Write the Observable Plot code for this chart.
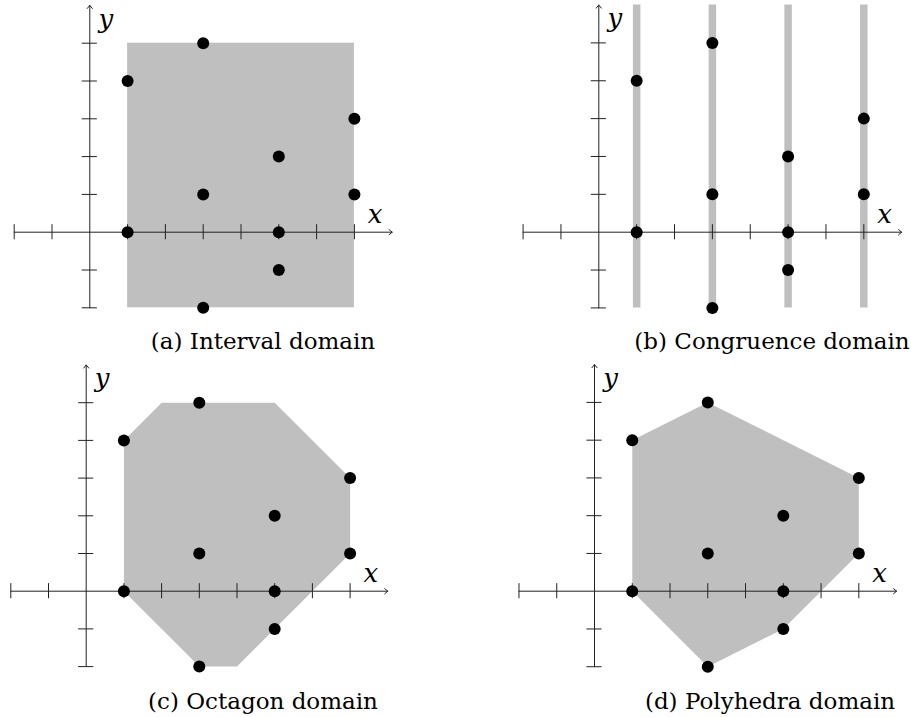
<!DOCTYPE html>
<html>
<head>
<meta charset="utf-8">
<script src="https://cdn.jsdelivr.net/npm/d3@7"></script>
<script src="https://cdn.jsdelivr.net/npm/@observablehq/plot@0.6"></script>
<style>
  html, body { margin: 0; padding: 0; background: #fff; }
  #wrap { position: relative; width: 911px; height: 717px; overflow: hidden; }
  .panel { position: absolute; }
  .cap { position: absolute; font-family: "DejaVu Serif", serif; font-size: 23px; line-height: 23px; white-space: nowrap; transform: translateX(-50%); color: #000; }
</style>
</head>
<body>
<div id="wrap"></div>
<script>
// ---- data ----
const pointX = [1, 1, 3, 3, 3, 5, 5, 5, 7, 7];
const pointY = [4, 0, 5, 1, -2, 2, 0, -1, 3, 1];
const xTicks = [-2, -1, 1, 2, 3, 4, 5, 6, 7];
const yTicks = [-2, -1, 1, 2, 3, 4, 5];
const intervalX = [1, 7];
const intervalY = [-2, 5];
const congruenceX = [1, 3, 5, 7];
const octagonX = [1, 2, 5, 7, 7, 4, 3, 1];
const octagonY = [4, 5, 5, 3, 1, -2, -2, 0];
const polyhedraX = [1, 3, 7, 7, 5, 3, 1];
const polyhedraY = [4, 5, 3, 1, -1, -2, 0];
const captions = ["(a) Interval domain", "(b) Congruence domain", "(c) Octagon domain", "(d) Polyhedra domain"];

const points = pointX.map((x, i) => ({x, y: pointY[i]}));
const poly = (xs, ys) => xs.map((x, i) => ({x, y: ys[i]}));
const GRAY = "#bfbfbf";
const AX = "#222";
const SERIF = "'DejaVu Serif', serif";

function panel(shapeMarks, layout) {
  const {left, top, w, h, ox, oy, s} = layout;
  const xDom = [-2, 8], yDom = [-2, 6];
  const plot = Plot.plot({
    width: w, height: h,
    x: {domain: xDom, range: [ox + xDom[0] * s, ox + xDom[1] * s], axis: null},
    y: {domain: yDom, range: [oy - yDom[0] * s, oy - yDom[1] * s], axis: null},
    style: {background: "transparent", overflow: "visible"},
    marks: [
      ...shapeMarks,
      Plot.arrow([0], {x1: -2, y1: 0, x2: 8, y2: 0, stroke: AX, strokeWidth: 1, headLength: 6, headAngle: 80}),
      Plot.arrow([0], {x1: 0, y1: -2, x2: 0, y2: 6, stroke: AX, strokeWidth: 1, headLength: 6, headAngle: 80}),
      Plot.ruleX(xTicks, {x: d => d, y1: -0.2, y2: 0.2, stroke: AX, strokeWidth: 1}),
      Plot.ruleY(yTicks, {y: d => d, x1: -0.2, x2: 0.2, stroke: AX, strokeWidth: 1}),
      Plot.dot(points, {x: "x", y: "y", r: 6, fill: "#000", stroke: "none"}),
      Plot.text(["x"], {x: 8, y: 0, text: d => d, dx: -17, dy: -18, fontFamily: SERIF, fontStyle: "italic", fontSize: 26, fill: "#000"}),
      Plot.text(["y"], {x: 0, y: 6, text: d => d, dx: 16, dy: 14, fontFamily: SERIF, fontStyle: "italic", fontSize: 26, fill: "#000"})
    ]
  });
  plot.classList.add("panel");
  plot.style.left = left + "px";
  plot.style.top = top + "px";
  return plot;
}

const wrap = document.getElementById("wrap");
const layouts = [
  {left: 0, top: 0, w: 455, h: 330, ox: 89.3, oy: 231.7, s: 37.8},
  {left: 455, top: 0, w: 456, h: 330, ox: 143.3, oy: 231.7, s: 37.86},
  {left: 0, top: 358, w: 455, h: 330, ox: 85.7, oy: 232.7, s: 37.7},
  {left: 455, top: 358, w: 456, h: 330, ox: 139, oy: 232.7, s: 37.76}
];
const shapes = [
  [Plot.rect([0], {x1: intervalX[0], x2: intervalX[1], y1: intervalY[0], y2: intervalY[1], fill: GRAY})],
  [Plot.ruleX(congruenceX, {x: d => d, y1: -2, y2: 6, stroke: GRAY, strokeWidth: 7.5})],
  [Plot.line(poly(octagonX, octagonY), {x: "x", y: "y", fill: GRAY, stroke: "none"})],
  [Plot.line(poly(polyhedraX, polyhedraY), {x: "x", y: "y", fill: GRAY, stroke: "none"})]
];
layouts.forEach((l, i) => wrap.appendChild(panel(shapes[i], l)));

const capPos = [[263, 330], [772, 330], [263, 690], [770, 690]];
captions.forEach((t, i) => {
  const d = document.createElement("div");
  d.className = "cap";
  d.textContent = t;
  d.style.left = capPos[i][0] + "px";
  d.style.top = capPos[i][1] + "px";
  wrap.appendChild(d);
});
</script>
</body>
</html>
